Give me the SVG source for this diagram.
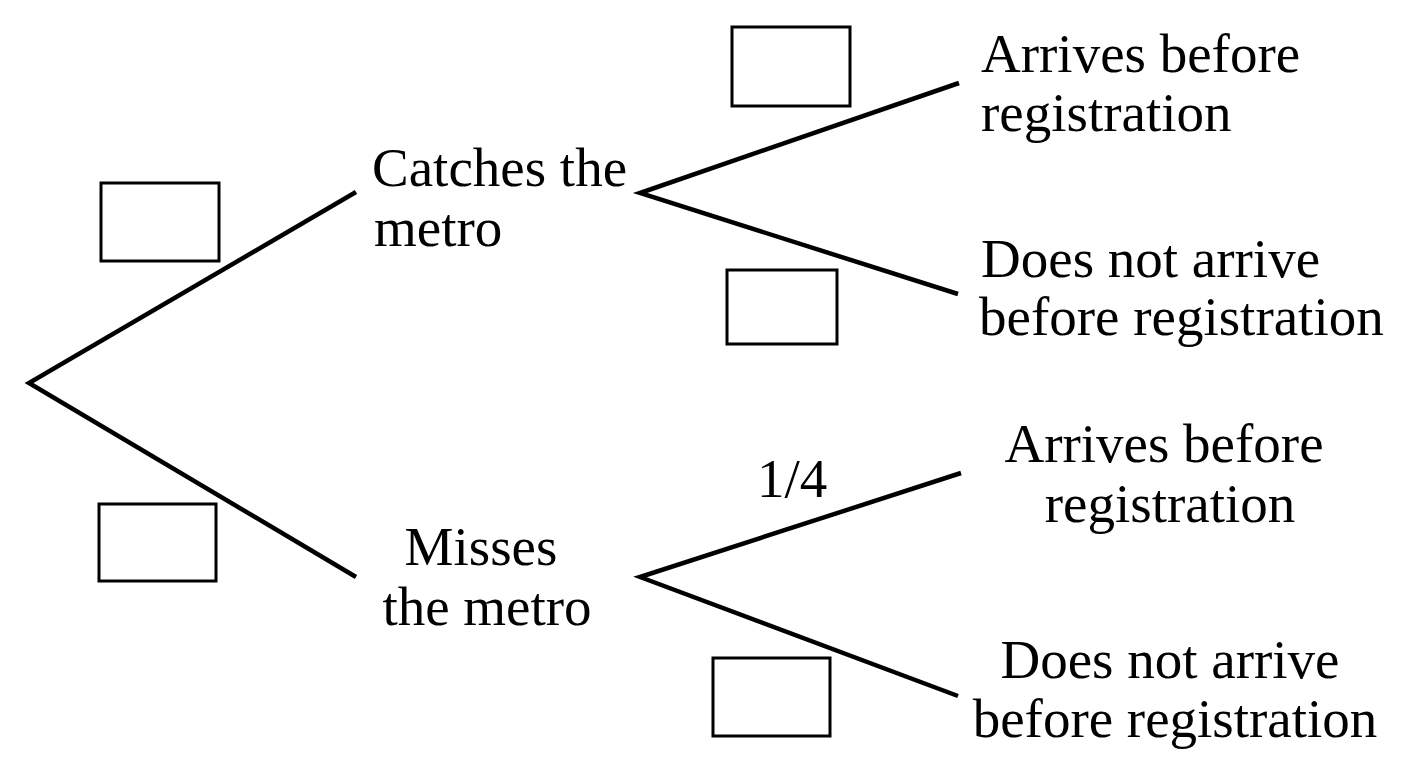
<svg xmlns="http://www.w3.org/2000/svg" width="1408" height="768" viewBox="0 0 1408 768">
<style>
.t{font-family:"Liberation Serif","Times New Roman",serif;font-size:55px;fill:#000}
.c{text-anchor:middle}
.ln{stroke:#000;stroke-width:4.5;fill:none;stroke-linecap:butt}
.bx{stroke:#000;stroke-width:3;fill:#fff}
</style>
<rect width="1408" height="768" fill="#fff"/>
<g id="connectors">
<polyline class="ln" points="356,192 29,383 356,577"/>
<polyline class="ln" points="959,83 640,193 958,294"/>
<polyline class="ln" points="961,473 640,577 958,696"/>
</g>
<g id="box1"><rect class="bx" x="101" y="183" width="118" height="78"/></g>
<g id="box2"><rect class="bx" x="99" y="504" width="117" height="77"/></g>
<g id="box3"><rect class="bx" x="732" y="27" width="118" height="79"/></g>
<g id="box4"><rect class="bx" x="727" y="270" width="110" height="74"/></g>
<g id="box5"><rect class="bx" x="713" y="658" width="117" height="78"/></g>
<g id="catches"><text class="t" x="372" y="186">Catches the</text><text class="t" x="374" y="246">metro</text></g>
<g id="misses"><text class="t c" x="481" y="565">Misses</text><text class="t c" x="487" y="625">the metro</text></g>
<g id="a1"><text class="t" x="981" y="72">Arrives before</text><text class="t" x="981" y="131">registration</text></g>
<g id="d1"><text class="t" x="981" y="277">Does not arrive</text><text class="t" x="979" y="335">before registration</text></g>
<g id="a2"><text class="t c" x="1164" y="462">Arrives before</text><text class="t c" x="1170" y="522">registration</text></g>
<g id="d2"><text class="t c" x="1170" y="678">Does not arrive</text><text class="t c" x="1175" y="737">before registration</text></g>
<g id="p"><text class="t" x="757" y="497">1/4</text></g>
</svg>
